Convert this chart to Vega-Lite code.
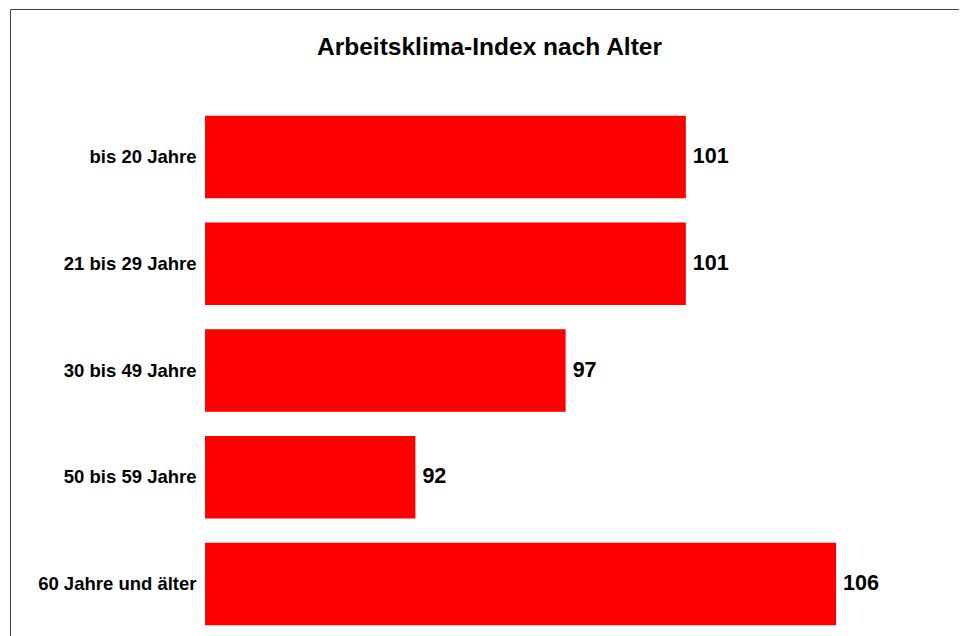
{
  "$schema": "https://vega.github.io/schema/vega-lite/v6.json",
  "width": 949,
  "height": 723,
  "autosize": {"type": "none"},
  "padding": {"left": 10, "top": 9, "right": 0, "bottom": 0},
  "background": "white",
  "title": {
    "text": "Arbeitsklima-Index nach Alter",
    "font": "Liberation Sans",
    "fontSize": 24.5,
    "fontWeight": "bold",
    "color": "black",
    "anchor": "middle",
    "baseline": "alphabetic",
    "offset": 0,
    "dx": 5,
    "dy": 70
  },
  "data": {
    "values": [
      {"age": "bis 20 Jahre", "value": 101},
      {"age": "21 bis 29 Jahre", "value": 101},
      {"age": "30 bis 49 Jahre", "value": 97},
      {"age": "50 bis 59 Jahre", "value": 92},
      {"age": "60 Jahre und älter", "value": 106}
    ]
  },
  "encoding": {
    "y": {
      "field": "age",
      "type": "nominal",
      "sort": null,
      "scale": {"paddingInner": 0.228, "paddingOuter": 1.0165},
      "axis": {
        "title": null,
        "domain": false,
        "ticks": false,
        "grid": false,
        "labelFont": "Liberation Sans",
        "labelFontSize": 18.5,
        "labelFontWeight": "bold",
        "labelColor": "black",
        "labelAlign": "right",
        "labelLimit": 0,
        "labelPadding": -186
      }
    }
  },
  "layer": [
    {
      "mark": {"type": "bar", "color": "#ff0000"},
      "encoding": {
        "x": {
          "field": "value",
          "type": "quantitative",
          "scale": {"domain": [78.51, 110.09], "zero": false, "nice": false},
          "axis": null
        },
        "x2": {"datum": 85}
      }
    },
    {
      "mark": {
        "type": "text",
        "align": "left",
        "baseline": "middle",
        "dx": 7,
        "font": "Liberation Sans",
        "fontSize": 21.5,
        "fontWeight": "bold",
        "color": "black"
      },
      "encoding": {
        "x": {"field": "value", "type": "quantitative"},
        "text": {"field": "value", "type": "quantitative"}
      }
    }
  ],
  "config": {
    "view": {"stroke": "#444444", "strokeWidth": 1}
  }
}
